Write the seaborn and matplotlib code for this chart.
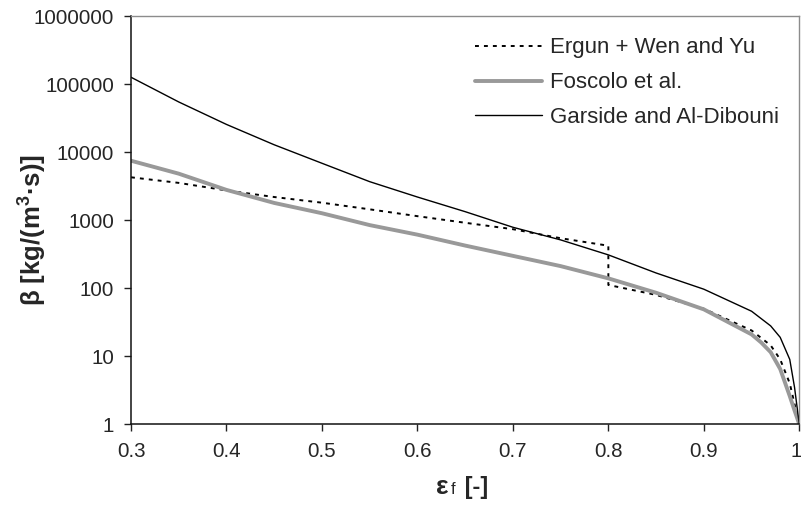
import matplotlib
matplotlib.use("Agg")
import matplotlib.pyplot as plt
import matplotlib.transforms as mtransforms
import seaborn as sns
import pandas as pd
from matplotlib.ticker import FixedLocator, NullLocator
from matplotlib.offsetbox import TextArea, HPacker, AnchoredOffsetbox

# Drag coefficient beta [kg/(m^3 s)] versus fluid volume fraction
eps_ergun = [0.30, 0.35, 0.40, 0.45, 0.50, 0.55, 0.60, 0.65, 0.70, 0.75, 0.80,
             0.80, 0.85, 0.90, 0.95, 0.97, 0.98, 0.99, 1.00]
beta_ergun = [4290, 3550, 2750, 2200, 1815, 1450, 1150, 920, 740, 545, 423,
              112, 80, 50, 24, 14.5, 9, 4, 1]

eps_foscolo = [0.30, 0.35, 0.40, 0.45, 0.50, 0.55, 0.60, 0.65, 0.70, 0.75, 0.80,
               0.85, 0.90, 0.95, 0.96, 0.97, 0.98, 0.99, 0.995, 1.00]
beta_foscolo = [7520, 4850, 2800, 1800, 1270, 850, 615, 425, 300, 212, 140,
                86, 49, 21, 16, 11.5, 6.5, 2.6, 1.6, 1]

eps_garside = [0.30, 0.35, 0.40, 0.45, 0.50, 0.55, 0.60, 0.65, 0.70, 0.75, 0.80,
               0.85, 0.90, 0.95, 0.97, 0.98, 0.99, 0.995, 1.00]
beta_garside = [127000, 55000, 25700, 12900, 6900, 3700, 2200, 1340, 790, 515, 310,
                168, 97, 46, 28, 19, 9, 3.5, 1]

series_names = ["Ergun + Wen and Yu", "Foscolo et al.", "Garside and Al-Dibouni"]

x_ticks = [0.3, 0.4, 0.5, 0.6, 0.7, 0.8, 0.9, 1.0]
x_tick_labels = ["0.3", "0.4", "0.5", "0.6", "0.7", "0.8", "0.9", "1"]
y_ticks = [1, 10, 100, 1000, 10000, 100000, 1000000]
y_tick_labels = ["1", "10", "100", "1000", "10000", "100000", "1000000"]

sns.set_style("ticks")
plt.rcParams["font.family"] = ["Liberation Sans", "DejaVu Sans"]
plt.rcParams["mathtext.fontset"] = "custom"
plt.rcParams["mathtext.rm"] = "Liberation Sans"
plt.rcParams["mathtext.bf"] = "Liberation Sans:bold"

W, H = 801, 505
fig = plt.figure(figsize=(W / 100, H / 100), dpi=100)
L, R, T, B = 131, 799.3, 16.3, 424.3
ax = fig.add_axes([L / W, 1 - B / H, (R - L) / W, (B - T) / H])

df_e = pd.DataFrame({"eps": eps_ergun, "beta": beta_ergun})
df_f = pd.DataFrame({"eps": eps_foscolo, "beta": beta_foscolo})
df_g = pd.DataFrame({"eps": eps_garside, "beta": beta_garside})

sns.lineplot(data=df_e, x="eps", y="beta", ax=ax, estimator=None, sort=False,
             color="black", linewidth=1.4, linestyle=(0, (2.0, 2.6)),
             label=series_names[0])
sns.lineplot(data=df_f, x="eps", y="beta", ax=ax, estimator=None, sort=False,
             color="#999999", linewidth=2.8, label=series_names[1])
sns.lineplot(data=df_g, x="eps", y="beta", ax=ax, estimator=None, sort=False,
             color="black", linewidth=1.0, label=series_names[2])

ax.set_yscale("log")
ax.set_xlim(0.3, 1.0)
ax.set_ylim(1, 1e6)
ax.xaxis.set_major_locator(FixedLocator(x_ticks))
ax.set_xticklabels(x_tick_labels)
ax.yaxis.set_major_locator(FixedLocator(y_ticks))
ax.yaxis.set_minor_locator(NullLocator())
ax.set_yticklabels(y_tick_labels)
ax.tick_params(axis="both", which="major", labelsize=14.8, length=5,
               width=1.0, color="#222222", direction="out")
ax.tick_params(axis="y", pad=7)
ax.tick_params(axis="x", pad=8)
ax.set_xlabel("")
ax.set_ylabel("")

# keep the last x tick label inside the canvas
last = ax.get_xticklabels()[-1]
last.set_transform(last.get_transform()
                   + mtransforms.ScaledTranslation(-3 / 100, 0, fig.dpi_scale_trans))

for side in ["left", "bottom"]:
    ax.spines[side].set_color("#111111")
    ax.spines[side].set_linewidth(1.1)
for side in ["top", "right"]:
    ax.spines[side].set_visible(True)
    ax.spines[side].set_color("#8c8c8c")
    ax.spines[side].set_linewidth(1.0)

leg = ax.legend(loc="upper left", bbox_to_anchor=(475 / W, 1 - 37.5 / H),
                bbox_transform=fig.transFigure, frameon=False, fontsize=16,
                handlelength=3.0, handletextpad=0.37, labelspacing=0.62,
                borderpad=0, borderaxespad=0)

# y axis title
fig.text(32 / W, 1 - 230 / H, r"β [kg/(m$^{\mathbf{3}}$·s)]", rotation=90,
         ha="center", va="center", fontsize=18.5, fontweight="bold")

# x axis title: bold epsilon with a small f, then the unit
parts = [TextArea("ε", textprops=dict(fontsize=19, fontweight="bold")),
         TextArea("f", textprops=dict(fontsize=12)),
         TextArea(" [-]", textprops=dict(fontsize=17, fontweight="bold"))]
packed = HPacker(children=parts, align="baseline", pad=0, sep=2)
xl = AnchoredOffsetbox(loc="center", child=packed, pad=0, borderpad=0,
                       frameon=False, bbox_to_anchor=(462 / W, 1 - 487 / H),
                       bbox_transform=fig.transFigure)
fig.add_artist(xl)

fig.savefig("out.png", dpi=100)
